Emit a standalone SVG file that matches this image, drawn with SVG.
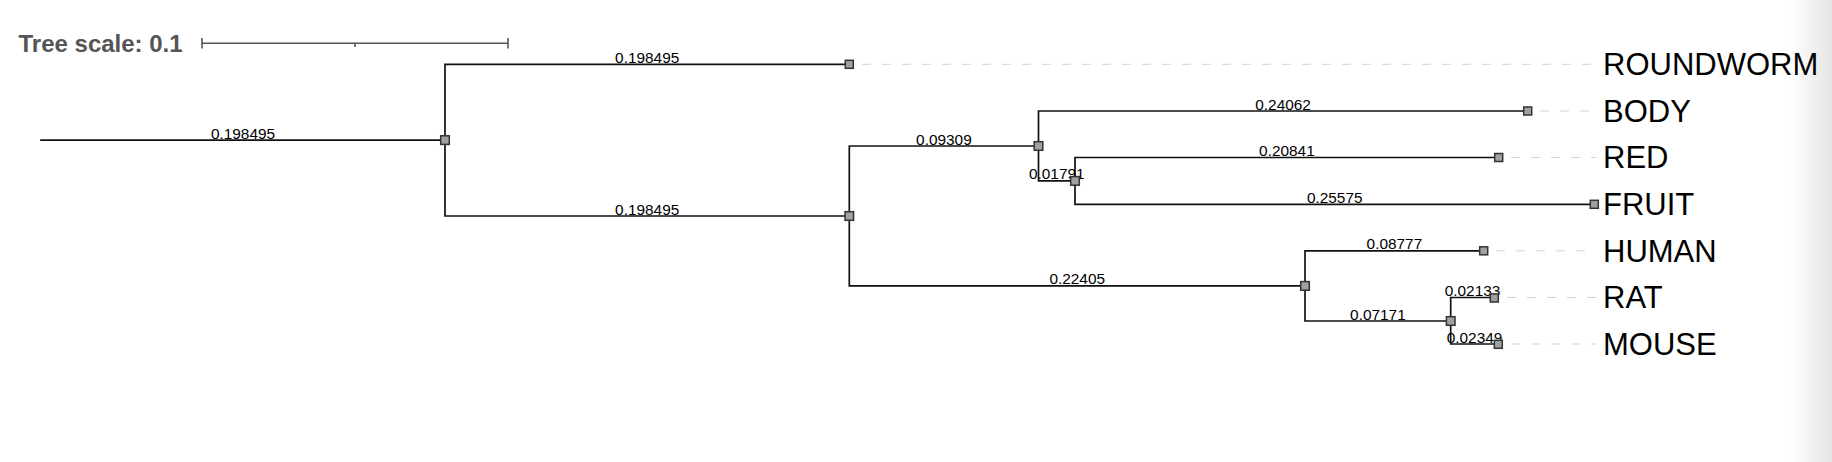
<svg xmlns="http://www.w3.org/2000/svg" width="1832" height="462" viewBox="0 0 1832 462">
<style>
.br{stroke:#111;stroke-width:1.7;fill:none;stroke-linecap:square}
.dash{stroke:#d4d4d4;stroke-width:1;stroke-dasharray:9,11;fill:none}
.bl{font-family:"Liberation Sans",Arial,sans-serif;font-size:15.4px;fill:#000;text-anchor:middle}
.leaf{font-family:"Liberation Sans",Arial,sans-serif;font-size:31px;fill:#000}
.nd{fill:#a0a0a0;stroke:#333;stroke-width:1.5}
.sc{stroke:#555;stroke-width:1.6;fill:none}
</style>
<defs>
<linearGradient id="edge" x1="0" y1="0" x2="1" y2="0">
<stop offset="0" stop-color="#ffffff"/>
<stop offset="1" stop-color="#e6e6e6"/>
</linearGradient>
</defs>
<rect x="0" y="0" width="1832" height="462" fill="#fff"/>
<rect x="1788" y="0" width="44" height="462" fill="url(#edge)"/>

<g id="scale">
<text x="18.5" y="51.8" font-family="'Liberation Sans',Arial,sans-serif" font-size="24" font-weight="bold" fill="#555">Tree scale: 0.1</text>
<path class="sc" d="M202,43.3H508M202,38V48.5M508,38V48.5M355,43.3V47"/>
</g>

<g id="connectors">
<path class="br" d="M41,140.1H445"/>
<path class="br" d="M445,64.3V216M445,64.3H849.3M445,216H849.3"/>
<path class="br" d="M849.3,146V285.9M849.3,146H1038.5M849.3,285.9H1305"/>
<path class="br" d="M1038.5,111V180.9M1038.5,111H1527.7M1038.5,180.9H1075"/>
<path class="br" d="M1075,157.5V204.3M1075,157.5H1498.7M1075,204.3H1594.3"/>
<path class="br" d="M1305,250.8V321M1305,250.8H1483.7M1305,321H1450.7"/>
<path class="br" d="M1450.7,297.5V344M1450.7,297.5H1494.3M1450.7,344H1498.3"/>
<path class="dash" d="M862,64.3H1596M1540,111H1596M1511,157.5H1596M1496,250.8H1596M1507,297.5H1596M1511,344H1596"/>
</g>

<g id="branch-labels">
<text class="bl" x="243" y="138.6">0.198495</text>
<text class="bl" x="647.2" y="62.8">0.198495</text>
<text class="bl" x="647.2" y="214.5">0.198495</text>
<text class="bl" x="943.9" y="144.5">0.09309</text>
<text class="bl" x="1283.1" y="109.5">0.24062</text>
<text class="bl" x="1056.8" y="179.4">0.01791</text>
<text class="bl" x="1286.9" y="156">0.20841</text>
<text class="bl" x="1334.7" y="202.8">0.25575</text>
<text class="bl" x="1077.2" y="284.4">0.22405</text>
<text class="bl" x="1394.4" y="249.3">0.08777</text>
<text class="bl" x="1377.9" y="319.5">0.07171</text>
<text class="bl" x="1472.5" y="296">0.02133</text>
<text class="bl" x="1474.5" y="342.5">0.02349</text>
</g>

<g id="node-root"><rect class="nd" x="440.7" y="135.8" width="8.6" height="8.6"/></g>
<g id="node-n2"><rect class="nd" x="845" y="211.7" width="8.6" height="8.6"/></g>
<g id="node-n3"><rect class="nd" x="1034.2" y="141.7" width="8.6" height="8.6"/></g>
<g id="node-n4"><rect class="nd" x="1070.7" y="176.6" width="8.6" height="8.6"/></g>
<g id="node-n5"><rect class="nd" x="1300.7" y="281.6" width="8.6" height="8.6"/></g>
<g id="node-n6"><rect class="nd" x="1446.4" y="316.7" width="8.6" height="8.6"/></g>

<g id="leaf-roundworm"><rect class="nd" x="845.3" y="60.3" width="8" height="8"/><text class="leaf" x="1603" y="75.2">ROUNDWORM</text></g>
<g id="leaf-body"><rect class="nd" x="1523.7" y="107" width="8" height="8"/><text class="leaf" x="1603" y="121.9">BODY</text></g>
<g id="leaf-red"><rect class="nd" x="1494.7" y="153.5" width="8" height="8"/><text class="leaf" x="1603" y="168.4">RED</text></g>
<g id="leaf-fruit"><rect class="nd" x="1590.3" y="200.3" width="8" height="8"/><text class="leaf" x="1603" y="215.2">FRUIT</text></g>
<g id="leaf-human"><rect class="nd" x="1479.7" y="246.8" width="8" height="8"/><text class="leaf" x="1603" y="261.7">HUMAN</text></g>
<g id="leaf-rat"><rect class="nd" x="1490.3" y="294" width="8" height="8"/><text class="leaf" x="1603" y="308.4">RAT</text></g>
<g id="leaf-mouse"><rect class="nd" x="1494.3" y="340.3" width="8" height="8"/><text class="leaf" x="1603" y="354.9">MOUSE</text></g>
</svg>
